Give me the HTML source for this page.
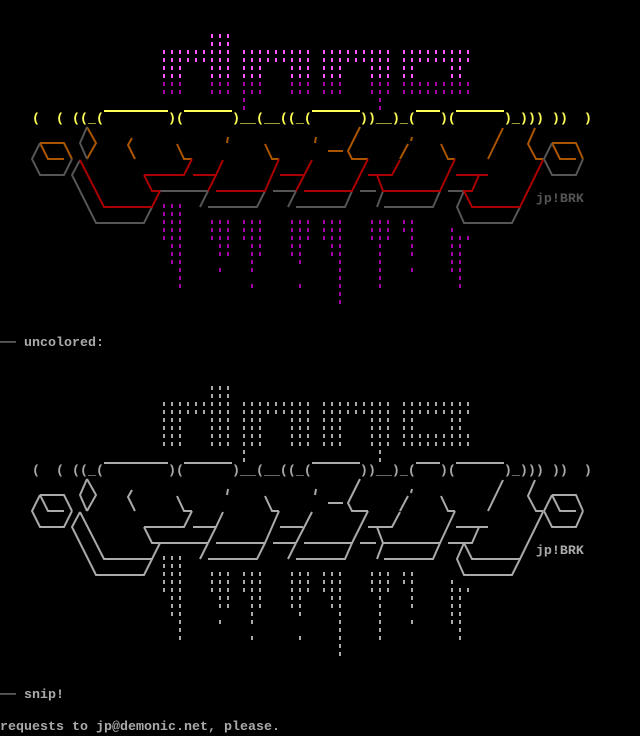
<!DOCTYPE html>
<html><head><meta charset="utf-8"><style>
html,body{margin:0;padding:0;background:#000;width:640px;height:736px;overflow:hidden}
#art{position:absolute;left:0;top:0}
pre{position:absolute;left:0;top:0;margin:0;font-family:"Liberation Mono",monospace;font-size:13.333px;line-height:16px;font-weight:bold;color:#aaa;white-space:pre}
.y{color:#ffff55}.k{color:#555}
.c .O{stroke:#aa5500}.c .R{stroke:#aa0000}.c .G{stroke:#555555}
.u path{stroke:#aaa}
path{fill:none;stroke-width:2}
</style></head><body>
<svg id="art" width="640" height="736" viewBox="0 0 640 736">
<defs>
<pattern id="pb" patternUnits="userSpaceOnUse" x="3" y="2" width="8" height="8"><rect width="2" height="4" fill="#ff55ff"/></pattern>
<pattern id="pd" patternUnits="userSpaceOnUse" x="3" y="2" width="8" height="8"><rect width="2" height="4" fill="#aa00aa"/></pattern>
<pattern id="pd2" patternUnits="userSpaceOnUse" x="3" y="4" width="8" height="8"><rect width="2" height="4" fill="#aa00aa"/></pattern>
<pattern id="pg" patternUnits="userSpaceOnUse" x="3" y="2" width="8" height="8"><rect width="2" height="4" fill="#aaaaaa"/></pattern>
<pattern id="pg2" patternUnits="userSpaceOnUse" x="3" y="4" width="8" height="8"><rect width="2" height="4" fill="#aaaaaa"/></pattern>
</defs>
<g class="c">
<g fill="url(#pb)">
<rect x="163" y="50" width="24" height="30"/><rect x="187" y="50" width="24" height="14"/>
<rect x="211" y="34" width="24" height="46"/><rect x="243" y="50" width="24" height="30"/>
<rect x="267" y="50" width="24" height="14"/><rect x="291" y="50" width="24" height="30"/>
<rect x="323" y="50" width="24" height="30"/><rect x="347" y="50" width="24" height="14"/>
<rect x="371" y="50" width="24" height="30"/><rect x="403" y="50" width="16" height="30"/>
<rect x="419" y="50" width="32" height="14"/><rect x="451" y="50" width="24" height="14"/><rect x="451" y="64" width="16" height="16"/>
</g>
<g fill="url(#pd)">
<rect x="163" y="82" width="24" height="14"/><rect x="211" y="82" width="24" height="14"/>
<rect x="243" y="82" width="24" height="14"/><rect x="243" y="98" width="8" height="14"/>
<rect x="291" y="82" width="24" height="14"/><rect x="323" y="82" width="24" height="14"/>
<rect x="371" y="82" width="24" height="14"/><rect x="379" y="98" width="8" height="14"/>
<rect x="403" y="82" width="72" height="14"/>
</g>
<g fill="url(#pd2)">
<rect x="163" y="204" width="24" height="38"/><rect x="171" y="244" width="16" height="22"/><rect x="179" y="268" width="8" height="22"/>
<rect x="211" y="220" width="24" height="22"/><rect x="219" y="244" width="16" height="14"/><rect x="219" y="268" width="8" height="6"/>
<rect x="243" y="220" width="24" height="22"/><rect x="251" y="244" width="16" height="14"/><rect x="251" y="260" width="8" height="14"/><rect x="251" y="284" width="8" height="6"/>
<rect x="291" y="220" width="24" height="22"/><rect x="291" y="244" width="16" height="14"/><rect x="299" y="260" width="8" height="6"/><rect x="299" y="284" width="8" height="6"/>
<rect x="323" y="220" width="24" height="22"/><rect x="331" y="244" width="16" height="14"/><rect x="339" y="260" width="8" height="46"/>
<rect x="371" y="220" width="24" height="22"/><rect x="379" y="244" width="8" height="46"/>
<rect x="403" y="220" width="16" height="14"/><rect x="411" y="236" width="8" height="22"/><rect x="411" y="268" width="8" height="6"/>
<rect x="451" y="228" width="8" height="46"/><rect x="459" y="236" width="8" height="54"/><rect x="467" y="236" width="8" height="6"/>
</g>
<path stroke="#ffff55" d="M104,111H168M184,111H232M312,111H360M416,111H440M456,111H504"/>
<path class="O" d="M40,143L64,143L72,159M40,143L48,159L64,159M87,127L96,143L87,159M132,138L128,145L135,159M177,144L184,159L192,159M228,137L227,143M265,144L272,159L279,159M316,137L315,143M360,127L348,151L352,159L368,159M328,151L343,151M412,137L411,141M408,144L400,159M441,144L448,159L455,159M503,128L488,159M535,128L528,144L536,159L543,159M552,143L576,143L583,159M552,143L560,159L576,159"/>
<path class="G" d="M87,127L80,143L87,159M40,143L32,159L40,175L64,175L72,159M80,160L72,175L96,223L144,223L152,207M160,191L208,191M200,207L208,191M208,207L257,207L265,191M273,191L296,191M288,207L296,191M296,207L345,207L352,191M360,191L376,191M377,207L383,191M384,207L433,207L440,191M448,191L464,191L457,207L464,223L512,223L520,207M583,159L576,175L552,175L544,159L552,143"/>
<path class="R" d="M80,160L104,207L152,207L160,191M144,175L152,191L160,191M144,175L184,175L192,159M193,175L216,175L223,160M208,191L216,175M216,191L265,191L279,159M280,175L303,175M296,191L312,160M304,191L352,191L368,159M368,175L392,175L400,160M377,175L383,191L440,191L455,159M456,175L488,175M479,175L472,191L464,191L472,207L520,207L543,160"/>
</g>
<g class="u" transform="translate(0,352)">
<g fill="url(#pg)">
<rect x="163" y="50" width="24" height="46"/><rect x="187" y="50" width="24" height="14"/>
<rect x="211" y="34" width="24" height="62"/><rect x="243" y="50" width="24" height="46"/><rect x="243" y="98" width="8" height="14"/>
<rect x="267" y="50" width="24" height="14"/><rect x="291" y="50" width="24" height="46"/>
<rect x="323" y="50" width="24" height="46"/><rect x="347" y="50" width="24" height="14"/>
<rect x="371" y="50" width="24" height="46"/><rect x="379" y="98" width="8" height="14"/><rect x="403" y="50" width="16" height="46"/>
<rect x="419" y="50" width="32" height="14"/><rect x="451" y="50" width="24" height="14"/><rect x="451" y="64" width="16" height="16"/><rect x="403" y="82" width="72" height="14"/>
</g>
<g fill="url(#pg2)">
<rect x="163" y="204" width="24" height="38"/><rect x="171" y="244" width="16" height="22"/><rect x="179" y="268" width="8" height="22"/>
<rect x="211" y="220" width="24" height="22"/><rect x="219" y="244" width="16" height="14"/><rect x="219" y="268" width="8" height="6"/>
<rect x="243" y="220" width="24" height="22"/><rect x="251" y="244" width="16" height="14"/><rect x="251" y="260" width="8" height="14"/><rect x="251" y="284" width="8" height="6"/>
<rect x="291" y="220" width="24" height="22"/><rect x="291" y="244" width="16" height="14"/><rect x="299" y="260" width="8" height="6"/><rect x="299" y="284" width="8" height="6"/>
<rect x="323" y="220" width="24" height="22"/><rect x="331" y="244" width="16" height="14"/><rect x="339" y="260" width="8" height="46"/>
<rect x="371" y="220" width="24" height="22"/><rect x="379" y="244" width="8" height="46"/>
<rect x="403" y="220" width="16" height="14"/><rect x="411" y="236" width="8" height="22"/><rect x="411" y="268" width="8" height="6"/>
<rect x="451" y="228" width="8" height="46"/><rect x="459" y="236" width="8" height="54"/><rect x="467" y="236" width="8" height="6"/>
</g>
<path d="M104,111H168M184,111H232M312,111H360M416,111H440M456,111H504"/>
<path d="M40,143L64,143L72,159M40,143L48,159L64,159M87,127L96,143L87,159M132,138L128,145L135,159M177,144L184,159L192,159M228,137L227,143M265,144L272,159L279,159M316,137L315,143M360,127L348,151L352,159L368,159M328,151L343,151M412,137L411,141M408,144L400,159M441,144L448,159L455,159M503,128L488,159M535,128L528,144L536,159L543,159M552,143L576,143L583,159M552,143L560,159L576,159"/>
<path d="M87,127L80,143L87,159M40,143L32,159L40,175L64,175L72,159M80,160L72,175L96,223L144,223L152,207M160,191L208,191M200,207L208,191M208,207L257,207L265,191M273,191L296,191M288,207L296,191M296,207L345,207L352,191M360,191L376,191M377,207L383,191M384,207L433,207L440,191M448,191L464,191L457,207L464,223L512,223L520,207M583,159L576,175L552,175L544,159L552,143"/>
<path d="M80,160L104,207L152,207L160,191M144,175L152,191L160,191M144,175L184,175L192,159M193,175L216,175L223,160M208,191L216,175M216,191L265,191L279,159M280,175L303,175M296,191L312,160M304,191L352,191L368,159M368,175L392,175L400,160M377,175L383,191L440,191L455,159M456,175L488,175M479,175L472,191L464,191L472,207L520,207L543,160"/>
</g>
</svg>
<pre>







<span class="y">    (  ( ((_(        )(      )__(__((_(      ))__)_(   )(      )_))) ))  )</span>




<span class="k">                                                                   jp!BRK</span>








── uncolored:







    (  ( ((_(        )(      )__(__((_(      ))__)_(   )(      )_))) ))  )




                                                                   jp!BRK








── snip!

requests to jp@demonic.net, please.</pre>
</body></html>
